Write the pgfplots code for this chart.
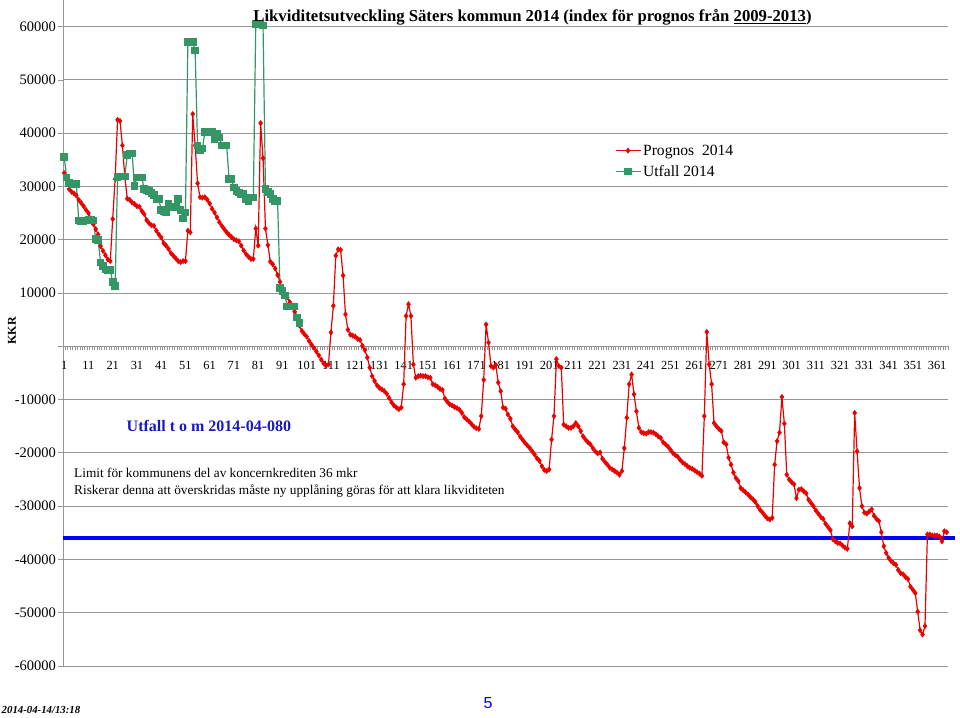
\documentclass[border=0pt]{standalone}
\usepackage{fontspec}
\setmainfont{Liberation Serif}
\newfontfamily\arialfont{Liberation Sans}
\usepackage{pgfplots}
\pgfplotsset{compat=1.18}
\definecolor{pred}{RGB}{235,0,0}
\definecolor{pgreen}{RGB}{51,150,100}
\definecolor{pgrid}{RGB}{150,150,150}
\definecolor{tblue}{RGB}{25,25,200}
\begin{document}
\begin{tikzpicture}[x=1pt,y=1pt]
\path[use as bounding box] (0,0) rectangle (960,717);
\begin{axis}[
 at={(63pt,51pt)}, anchor=south west,
 scale only axis, width=885pt, height=666pt,
 xmin=0.5, xmax=365.5, ymin=-60000, ymax=65000,
 clip=false,
 axis x line*=middle, axis y line*=left,
 axis line style={pgrid, line width=1pt},
 ytick={-60000,-50000,-40000,-30000,-20000,-10000,0,10000,20000,30000,40000,50000,60000},
 yticklabels={-60000,-50000,-40000,-30000,-20000,-10000,,10000,20000,30000,40000,50000,60000},
 ymajorgrids, grid style={pgrid, line width=1pt},
 xtick={1,11,...,361},
 xticklabels={1,11,21,31,41,51,61,71,81,91,101,111,121,131,141,151,161,171,181,191,201,211,221,231,241,251,261,271,281,291,301,311,321,331,341,351,361},
 minor xtick={0.5,1.5,...,365.5},
 tick align=outside,
 major tick length=5pt, minor tick length=4pt,
 tick style={pgrid, line width=0.8pt},
 every major x tick/.append style={draw=none},
 yticklabel style={font=\fontsize{14.5}{16}\selectfont, xshift=1.5pt},
 xticklabel style={font=\fontsize{12.4}{14}\selectfont, yshift=-6pt},
 legend style={at={(0.62,0.789)}, anchor=north west, draw=none, fill=none,
   font=\fontsize{15.6}{18}\selectfont, row sep=4.5pt},
 legend cell align=left,
 legend image code/.code={\draw[mark repeat=2,mark phase=2,#1] plot coordinates {(0pt,0pt) (12.5pt,0pt) (25pt,0pt)};},
]
\addplot[blue, line width=3.5pt, forget plot] coordinates {(0.5,-36000) (368.4,-36000)};
\addplot[pred, line width=1.2pt, mark=diamond*, mark size=2.6pt, mark options={fill=pred, draw=pred, line width=0.5pt}] table {
x y
1 32500
2 31400
3 29500
4 29000
5 28700
6 28300
7 27500
8 26900
9 26300
10 25600
11 25000
12 24000
13 22900
14 22000
15 21000
16 18800
17 17900
18 17100
19 16300
20 16000
21 23900
22 31400
23 42500
24 42300
25 37700
26 31800
27 27700
28 27500
29 27000
30 26700
31 26300
32 26200
33 25400
34 24800
35 23700
36 23100
37 22700
38 22600
39 21700
40 21000
41 20400
42 19400
43 18900
44 18300
45 17500
46 17000
47 16500
48 16000
49 15800
50 16000
51 16000
52 21700
53 21400
54 43600
55 37700
56 30600
57 28000
58 27900
59 28000
60 27500
61 26800
62 25800
63 25100
64 24200
65 23300
66 22600
67 22000
68 21400
69 20900
70 20500
71 20100
72 19900
73 19700
74 18900
75 18000
76 17300
77 16800
78 16400
79 16400
80 22100
81 18900
82 41900
83 35300
84 22100
85 19000
86 15900
87 15400
88 14600
89 13400
90 12100
91 10700
92 9800
93 9200
94 8300
95 7300
96 6500
97 5300
98 3900
99 2900
100 2300
101 1800
102 1000
103 300
104 -300
105 -1000
106 -1700
107 -2500
108 -3200
109 -3600
110 -3400
111 2600
112 7600
113 17000
114 18200
115 18100
116 13300
117 6000
118 3100
119 2200
120 2000
121 1800
122 1400
123 1200
124 100
125 -700
126 -2100
127 -4000
128 -5600
129 -6500
130 -7300
131 -7800
132 -8100
133 -8400
134 -8900
135 -9700
136 -10500
137 -11100
138 -11500
139 -11800
140 -11500
141 -7100
142 5700
143 7900
144 5700
145 -3400
146 -5900
147 -5600
148 -5500
149 -5600
150 -5600
151 -5800
152 -5900
153 -7100
154 -7300
155 -7600
156 -8000
157 -8200
158 -9800
159 -10400
160 -10900
161 -11100
162 -11400
163 -11600
164 -11900
165 -12500
166 -13300
167 -13700
168 -14100
169 -14600
170 -15100
171 -15400
172 -15500
173 -13100
174 -6300
175 4100
176 700
177 -3700
178 -4000
179 -3500
180 -6800
181 -8400
182 -11500
183 -11700
184 -12800
185 -13600
186 -15000
187 -15600
188 -16100
189 -16900
190 -17500
191 -18100
192 -18600
193 -19100
194 -19700
195 -20300
196 -21000
197 -21500
198 -22500
199 -23200
200 -23400
201 -23100
202 -17500
203 -13100
204 -2400
205 -3700
206 -4000
207 -14700
208 -15000
209 -15300
210 -15300
211 -15000
212 -14400
213 -15000
214 -15900
215 -16900
216 -17500
217 -18000
218 -18400
219 -19100
220 -19700
221 -20100
222 -19900
223 -21100
224 -21700
225 -22200
226 -22800
227 -23100
228 -23400
229 -23700
230 -24100
231 -23400
232 -19100
233 -13400
234 -7100
235 -5300
236 -9000
237 -12200
238 -15300
239 -16100
240 -16300
241 -16400
242 -16100
243 -16100
244 -16200
245 -16500
246 -16900
247 -17200
248 -18000
249 -18400
250 -18800
251 -19400
252 -20000
253 -20400
254 -20700
255 -21300
256 -21800
257 -22100
258 -22500
259 -22800
260 -23000
261 -23300
262 -23600
263 -23900
264 -24300
265 -13100
266 2700
267 -3400
268 -7100
269 -14400
270 -15000
271 -15500
272 -15900
273 -18000
274 -18400
275 -20900
276 -22200
277 -23700
278 -24700
279 -25300
280 -26600
281 -27000
282 -27400
283 -27800
284 -28300
285 -28700
286 -29200
287 -30000
288 -30700
289 -31200
290 -31800
291 -32300
292 -32500
293 -32200
294 -22200
295 -17800
296 -16200
297 -9500
298 -14500
299 -24100
300 -25000
301 -25500
302 -25900
303 -28500
304 -26900
305 -26800
306 -27200
307 -27600
308 -28800
309 -29400
310 -30000
311 -30800
312 -31400
313 -32000
314 -32400
315 -33300
316 -33900
317 -34500
318 -36200
319 -36600
320 -36900
321 -37000
322 -37400
323 -37800
324 -38000
325 -33200
326 -33800
327 -12500
328 -19700
329 -26600
330 -30000
331 -31200
332 -31400
333 -31000
334 -30600
335 -31800
336 -32400
337 -32800
338 -34900
339 -37500
340 -38800
341 -39700
342 -40300
343 -40700
344 -41000
345 -42000
346 -42600
347 -42800
348 -43300
349 -43700
350 -45100
351 -45700
352 -46300
353 -49800
354 -53300
355 -54100
356 -52500
357 -35300
358 -35300
359 -35500
360 -35500
361 -35500
362 -35700
363 -36600
364 -34700
365 -34900
};
\addlegendentry{Prognos\ \ 2014}
\addplot[pgreen, line width=1.2pt, mark=square*, mark size=3.2pt, mark options={fill=pgreen, draw=pgreen}] table {
x y
1 35500
2 31700
3 30600
4 30500
5 30500
6 30500
7 23600
8 23400
9 23500
10 23600
11 23700
12 23700
13 23600
14 20100
15 20000
16 15700
17 15100
18 14400
19 14300
20 14300
21 12100
22 11300
23 31800
24 31900
25 31900
26 31900
27 35900
28 36200
29 36200
30 30100
31 31700
32 31700
33 31700
34 29500
35 29300
36 29200
37 28800
38 28400
39 27600
40 27600
41 25600
42 25400
43 25200
44 26700
45 26100
46 26100
47 26100
48 27600
49 25600
50 24000
51 25100
52 57100
53 57100
54 57100
55 55500
56 37700
57 36800
58 37100
59 40200
60 40200
61 40200
62 40200
63 38900
64 39800
65 39200
66 37700
67 37700
68 37700
69 31400
70 31400
71 29800
72 29200
73 28900
74 28600
75 28600
76 27600
77 27300
78 27900
79 27900
80 60500
81 60500
82 60500
83 60200
84 29500
85 29000
86 28600
87 27600
88 27300
89 27300
90 11000
91 10400
92 9500
93 7500
94 7500
95 7500
96 7500
97 5400
98 4400
};
\addlegendentry{Utfall 2014}
\end{axis}
\node[font=\bfseries\fontsize{16.7}{19}\selectfont, anchor=base] at (532.5,695) {Likviditetsutveckling Säters kommun 2014 (index för prognos från \underline{2009-2013})};
\node[rotate=90, font=\bfseries\fontsize{12}{14}\selectfont] at (12,386) {KKR};
\node[font=\bfseries\fontsize{16}{18}\selectfont, text=tblue, anchor=west, inner sep=0] at (126.5,291) {Utfall t o m 2014-04-080};
\node[font=\fontsize{13.3}{17}\selectfont, anchor=base west, align=left, inner sep=0] at (74,222.5) {Limit för kommunens del av koncernkrediten 36 mkr\\Riskerar denna att överskridas måste ny upplåning göras för att klara likviditeten};
\node[font=\bfseries\itshape\fontsize{10.8}{12}\selectfont, anchor=base west, inner sep=0] at (1.5,4) {2014-04-14/13:18};
\node[font=\arialfont\fontsize{16}{18}\selectfont, text=blue, anchor=base] at (488,8.7) {5};
\end{tikzpicture}
\end{document}
